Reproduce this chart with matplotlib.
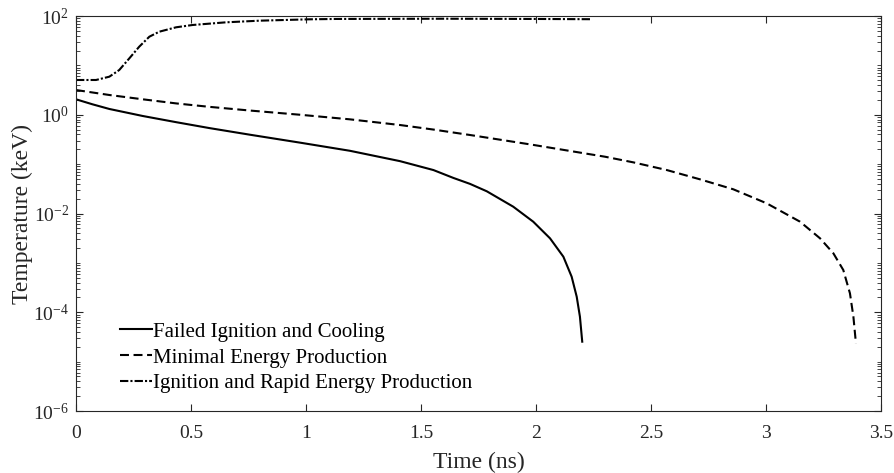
import numpy as np
import matplotlib
matplotlib.use("Agg")
import matplotlib.pyplot as plt
from matplotlib.ticker import FixedLocator, NullFormatter

plt.rcParams['font.family'] = ['Liberation Serif', 'DejaVu Serif']
plt.rcParams['mathtext.fontset'] = 'custom'
plt.rcParams['mathtext.rm'] = 'Liberation Serif'

# Failed Ignition and Cooling (time in ns, log10 of temperature in keV)
t_failed = [0.0, 0.072, 0.145, 0.29, 0.435, 0.58, 0.757, 0.974, 1.191, 1.409,
            1.554, 1.641, 1.713, 1.786, 1.901, 1.988, 2.061, 2.119, 2.155, 2.177,
            2.191, 2.201]
logT_failed = [0.313, 0.211, 0.117, -0.025, -0.15, -0.27, -0.405, -0.565, -0.73,
               -0.94, -1.12, -1.28, -1.40, -1.55, -1.862, -2.166, -2.503, -2.875,
               -3.28, -3.685, -4.09, -4.596]

# Minimal Energy Production
t_minimal = [0.0, 0.145, 0.29, 0.435, 0.58, 0.757, 0.974, 1.191, 1.409, 1.554, 1.713,
             1.974, 2.3, 2.423, 2.568, 2.713, 2.858, 3.003, 3.148, 3.235, 3.293, 3.336,
             3.365, 3.38, 3.391]
logT_minimal = [0.501, 0.40, 0.313, 0.23, 0.16, 0.085, 0.0, -0.093, -0.208, -0.30,
                -0.41, -0.60, -0.85, -0.964, -1.119, -1.308, -1.51, -1.794, -2.166,
                -2.503, -2.807, -3.144, -3.617, -4.09, -4.63]

# Ignition and Rapid Energy Production
t_ignition = [0.0, 0.087, 0.145, 0.188, 0.232, 0.275, 0.319, 0.362, 0.435, 0.507,
              0.652, 0.797, 1.014, 1.13, 1.6, 2.0, 2.242]
logT_ignition = [0.704, 0.704, 0.771, 0.906, 1.143, 1.379, 1.581, 1.682, 1.771, 1.818,
                 1.872, 1.905, 1.933, 1.94, 1.945, 1.94, 1.935]

labels = ["Failed Ignition and Cooling", "Minimal Energy Production",
          "Ignition and Rapid Energy Production"]
x_ticks = [0, 0.5, 1, 1.5, 2, 2.5, 3, 3.5]
x_ticklabels = ["0", "0.5", "1", "1.5", "2", "2.5", "3", "3.5"]
y_major_exps = [-6, -4, -2, 0, 2]

fig = plt.figure(figsize=(8.95, 4.73), dpi=100)
ax = fig.add_axes([76/895, 1-411/473, (881-76)/895, (411-16)/473])

lw = 1.5
ax.plot(t_failed, 10**np.array(logT_failed), color='black', lw=lw, ls='-', label=labels[0])
ax.plot(t_minimal, 10**np.array(logT_minimal), color='black', lw=lw, ls=(0, (4.3, 2.2)),
        label=labels[1])
ax.plot(t_ignition, 10**np.array(logT_ignition), color='black', lw=lw,
        ls=(0, (4, 1, 1, 1)), label=labels[2])

ax.set_yscale('log')
ax.set_xlim(0, 3.5)
ax.set_ylim(1e-6, 1e2)
ax.set_xticks(x_ticks)
ax.set_xticklabels(x_ticklabels)
ax.yaxis.set_major_locator(FixedLocator([10.0**e for e in y_major_exps]))
ax.set_yticklabels([r"$\mathregular{10^{%d}}$" % e for e in y_major_exps])
minors = []
for e in range(-6, 2):
    for m in range(1, 10):
        if m == 1 and e % 2 == 0:
            continue
        minors.append(m * 10.0**e)
ax.yaxis.set_minor_locator(FixedLocator(minors))
ax.yaxis.set_minor_formatter(NullFormatter())

spine_col = '#262626'
for s in ax.spines.values():
    s.set_color(spine_col)
    s.set_linewidth(0.8)
ax.tick_params(which='both', direction='in', top=True, right=True, colors=spine_col,
               labelcolor='#262626', labelsize=14)
ax.tick_params(which='major', length=5)
ax.tick_params(which='minor', length=3)
ax.tick_params(axis='x', which='minor', length=0)
ax.tick_params(axis='x', which='major', pad=10)
ax.tick_params(axis='y', which='major', pad=5)

ax.set_xlabel("Time (ns)", fontsize=17, color='#262626', labelpad=7)
ax.set_ylabel("Temperature (keV)", fontsize=17, color='#262626', labelpad=0)

leg = ax.legend(loc='upper left', bbox_to_anchor=(0.0547, 0.225), frameon=False, fontsize=15,
                handlelength=1.55, handletextpad=0.05, labelspacing=0.3,
                borderpad=0, borderaxespad=0)

fig.savefig("out.png", dpi=100)
